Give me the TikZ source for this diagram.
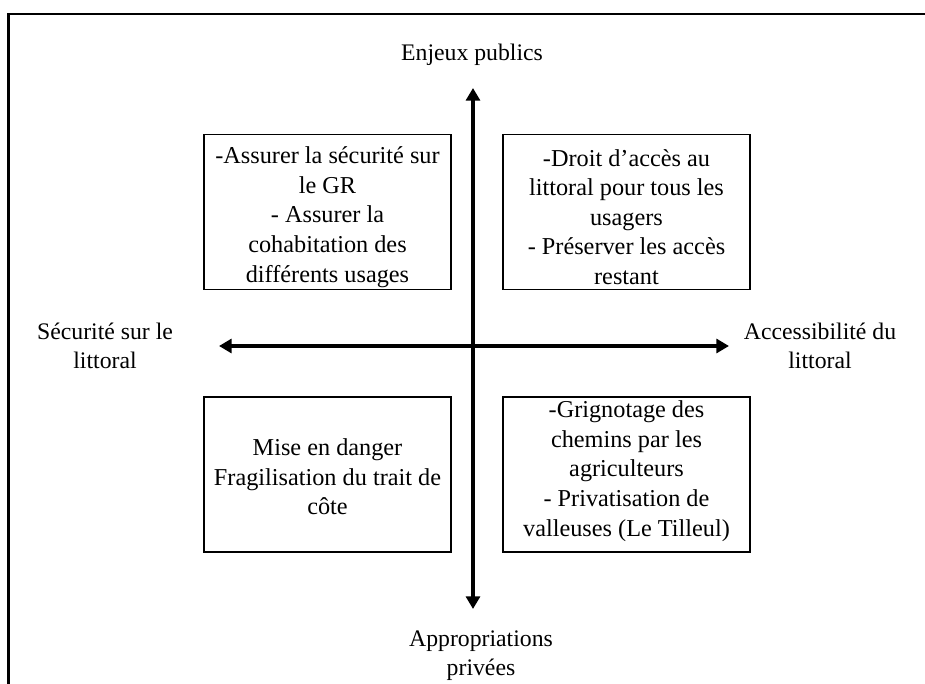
\documentclass[tikz,border=0pt]{standalone}
\usepackage{fontspec}
\setmainfont{Liberation Serif}
\usetikzlibrary{arrows.meta}
\begin{document}
\begin{tikzpicture}[x=0.75pt,y=-0.75pt,
  quad/.style={draw,line width=1pt,minimum width=185.25pt,minimum height=116.25pt,inner sep=0pt},
  qtext/.style={align=center,font=\fontsize{18.2}{22.2}\selectfont,inner sep=0pt},
  lab/.style={align=center,font=\fontsize{17.8}{22}\selectfont,inner sep=0pt},
  axis/.style={line width=3pt,{Triangle[length=9.5pt,width=10.5pt]}-{Triangle[length=9.5pt,width=10.5pt]}}]
\useasboundingbox (0,0) rectangle (925,684);
\draw[line width=1.6pt] (8.5,684) -- (8.5,14) -- (925,14);
% boxes
\node[quad] (tl) at (327.5,212) {};
\node[quad] (tr) at (626.5,212) {};
\node[quad] (bl) at (327.5,474.5) {};
\node[quad] (br) at (626.5,474.5) {};
\node[qtext] (tlt) at (327.5,217) {-Assurer la sécurité sur\\le GR\\- Assurer la\\cohabitation des\\différents usages};
\node[qtext] (trt) at (626.5,217) {-Droit d’accès au\\littoral pour tous les\\usagers\\- Préserver les accès\\restant};
\node[qtext] (blt) at (327.5,477) {Mise en danger\\Fragilisation du trait de\\côte};
\node[qtext] (brt) at (626.5,471) {-Grignotage des\\chemins par les\\agriculteurs\\- Privatisation de\\valleuses (Le Tilleul)};
% axis end points
\coordinate (top) at (473,88);
\coordinate (bot) at (473,609);
\coordinate (left) at (219,346);
\coordinate (right) at (729,346);
\draw[axis] (bot) -- (top);
\draw[axis] (left) -- (right);
% labels
\node[lab] (n) at (472,55) {Enjeux publics};
\node[lab] (w) at (105,346) {Sécurité sur le\\littoral};
\node[lab] (e) at (820,346) {Accessibilité du\\littoral};
\node[lab] (s) at (481,656) {Appropriations\\privées};
\end{tikzpicture}
\end{document}
